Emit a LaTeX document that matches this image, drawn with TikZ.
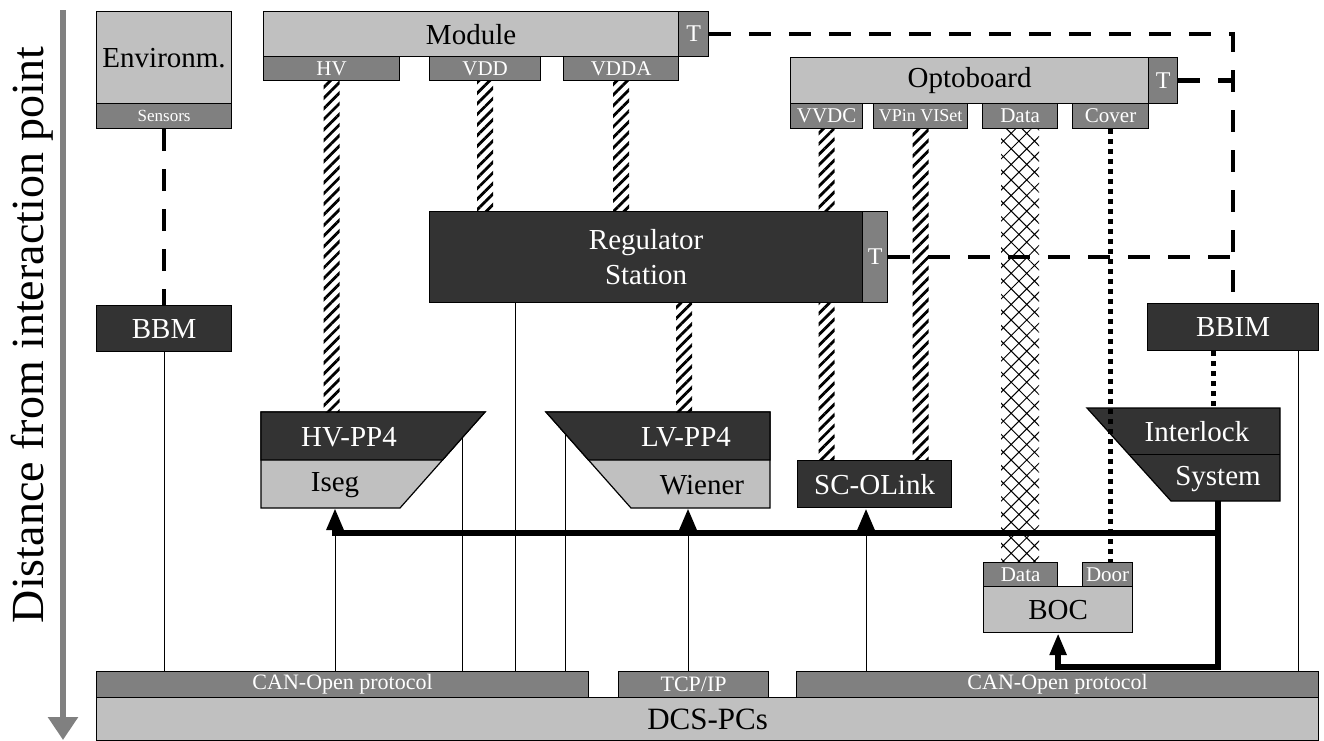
\documentclass[tikz,border=0pt]{standalone}
\usepackage{fontspec}
\setmainfont{Liberation Serif}
\usepackage{tikz}
\usetikzlibrary{arrows.meta,patterns.meta,calc}

\definecolor{lgray}{HTML}{C0C0C0}
\definecolor{mgray}{HTML}{808080}
\definecolor{dgray}{HTML}{333333}

\newcommand{\mainsz}{\fontsize{29}{33}\selectfont}
\newcommand{\portsz}{\fontsize{21}{23}\selectfont}
\newcommand{\senssz}{\fontsize{17}{19}\selectfont}
\newcommand{\axissz}{\fontsize{46}{50}\selectfont}

\begin{document}
\begin{tikzpicture}[x=1pt, y=-1pt,
    box/.style={rectangle, draw, line width=1.2pt, inner sep=0pt, anchor=north west},
    light/.style={box, fill=lgray, text=black, font=\mainsz},
    dark/.style={box, fill=dgray, text=white, font=\mainsz},
    port/.style={box, fill=mgray, text=white, font=\portsz},
    tport/.style={port, font=\fontsize{24}{26}\selectfont},
    stripes/.style={pattern={Lines[angle=45, distance=7.5pt, line width=2.8pt]}},
    crossed/.style={pattern={Hatch[angle=45, distance=11pt, line width=1pt]}},
    wire/.style={line width=1pt},
    temp/.style={line width=4.5pt, dash pattern=on 22pt off 18pt},
    door/.style={line width=5pt, dash pattern=on 5pt off 5pt},
    ilk/.style={line width=6pt},
    ilkarrow/.style={ilk, -{Triangle[length=22pt, width=16pt]}},
  ]
  \useasboundingbox (0,0) rectangle (1324,740);

  % Axis
  \coordinate (axtop) at (63,10);
  \coordinate (axbot) at (63,740);
  \draw[mgray, line width=6pt, -{Triangle[length=23pt, width=29pt]}] (axtop) -- (axbot);
  \node[rotate=90, font=\axissz] (axis) at (32,335) {Distance from interaction point};

  % Detector side
  \node[light, minimum width=135pt, minimum height=92pt] (env) at (96,11) {Environm.};
  \node[port, font=\senssz, minimum width=135pt, minimum height=25pt] (sens) at (96,103) {Sensors};

  \node[port, minimum width=136pt, minimum height=24pt] (hv) at (263,56) {HV};
  \node[port, minimum width=111pt, minimum height=24pt] (vdd) at (429,56) {VDD};
  \node[port, minimum width=115pt, minimum height=24pt] (vdda) at (563,56) {VDDA};
  \node[light, minimum width=415pt, minimum height=45pt] (mod) at (263,11) {Module};
  \node[tport, minimum width=30pt, minimum height=45pt] (modt) at (678,11) {T};

  \node[port, minimum width=72pt, minimum height=25pt] (vvdc) at (790,103) {VVDC};
  \node[port, font=\fontsize{18}{20}\selectfont, minimum width=94pt, minimum height=25pt] (vpin) at (873,103) {VPin VISet};
  \node[port, minimum width=75pt, minimum height=25pt] (odata) at (982,103) {Data};
  \node[port, minimum width=76pt, minimum height=25pt] (cover) at (1072,103) {Cover};
  \node[light, minimum width=358pt, minimum height=46pt] (opto) at (790,57) {Optoboard};
  \node[tport, minimum width=29pt, minimum height=46pt] (optot) at (1148,57) {T};

  \node[dark, minimum width=433pt, minimum height=91pt, align=center] (reg) at (429,211) {Regulator\\[2pt]Station};
  \node[tport, minimum width=25pt, minimum height=91pt] (regt) at (862,211) {T};

  \node[dark, minimum width=135pt, minimum height=46pt] (bbm) at (96,305) {BBM};
  \node[dark, minimum width=171pt, minimum height=47pt] (bbim) at (1147,303) {BBIM};

  % Power supplies and interlock
  \filldraw[fill=lgray, line width=1.2pt] (261,412) -- (485,412) -- (400,508) -- (261,508) -- cycle;
  \filldraw[fill=dgray, line width=1.2pt] (261,412) -- (485,412) -- (442.5,460) -- (261,460) -- cycle;
  \node[font=\mainsz, text=white] (hvpp) at (349,437) {HV-PP4};
  \node[font=\mainsz] (iseg) at (335,485) {Iseg};

  \filldraw[fill=lgray, line width=1.2pt] (546,412) -- (770,412) -- (770,508) -- (631,508) -- cycle;
  \filldraw[fill=dgray, line width=1.2pt] (546,412) -- (770,412) -- (770,460) -- (588.5,460) -- cycle;
  \node[font=\mainsz, text=white] (lvpp) at (686,437) {LV-PP4};
  \node[font=\mainsz] (wiener) at (702,485) {Wiener};

  \filldraw[fill=dgray, line width=1.2pt] (1087,408) -- (1280,408) -- (1280,501) -- (1171,501) -- cycle;
  \draw[line width=1.2pt] (1129,454.5) -- (1280,454.5);
  \node[font=\mainsz, text=white] (ilk1) at (1197,432) {Interlock};
  \node[font=\mainsz, text=white] (ilk2) at (1218,479) {System};

  \node[dark, minimum width=154pt, minimum height=47pt] (olink) at (797,460) {SC-OLink};

  \node[port, minimum width=74pt, minimum height=24pt] (bdata) at (983,562) {Data};
  \node[port, minimum width=50pt, minimum height=24pt] (door) at (1082,562) {Door};
  \node[light, minimum width=149pt, minimum height=46pt] (boc) at (983,586) {BOC};

  % Counting room
  \node[port, font=\fontsize{22}{24}\selectfont, minimum width=492pt, minimum height=26pt] (canl) at (96,671) {CAN-Open protocol};
  \node[port, font=\fontsize{22}{24}\selectfont, minimum width=150pt, minimum height=26pt] (tcp) at (618,671) {TCP/IP};
  \node[port, font=\fontsize{22}{24}\selectfont, minimum width=522pt, minimum height=26pt] (canr) at (796,671) {CAN-Open protocol};
  \node[light, font=\fontsize{31}{35}\selectfont, minimum width=1222pt, minimum height=43pt] (dcs) at (96,697) {DCS-PCs};

  % Attach points
  \coordinate (hvtop) at (331,412);
  \coordinate (hvtap) at (462,438);
  \coordinate (hvbot) at (335,508);
  \coordinate (lvtop) at (684,412);
  \coordinate (lvtap) at (565,433.5);
  \coordinate (lvbot) at (688,508);
  \coordinate (ilktop) at (1213,408);
  \coordinate (ilkbot) at (1218,501);
  \coordinate (regcan) at ([xshift=86pt]reg.south west);
  \coordinate (bbimcan) at ([xshift=-21pt]bbim.south east);
  \coordinate (jhv) at (335,533);
  \coordinate (jlv) at (688,533);
  \coordinate (jol) at (866,533);
  \coordinate (jilk) at (1218,533);

  % Cables
  \fill[stripes] ([xshift=-8pt]hv.south) rectangle ([xshift=8pt]hv.south |- hvtop);
  \fill[stripes] ([xshift=-8pt]vdd.south) rectangle ([xshift=8pt]vdd.south |- reg.north);
  \fill[stripes] ([xshift=-8pt]vdda.south) rectangle ([xshift=8pt]vdda.south |- reg.north);
  \fill[stripes] ([xshift=-8pt]lvtop |- reg.south) rectangle ([xshift=8pt]lvtop);
  \fill[stripes] ([xshift=-8pt]vvdc.south) rectangle ([xshift=8pt]vvdc.south |- reg.north);
  \fill[stripes] ([xshift=-8pt]vvdc.south |- reg.south) rectangle ([xshift=8pt]vvdc.south |- olink.north);
  \fill[stripes] ([xshift=-8pt]vpin.south) rectangle ([xshift=8pt]vpin.south |- olink.north);
  \fill[crossed] ([xshift=-19pt]odata.south) rectangle ([xshift=19pt]odata.south |- bdata.north);

  % Bus lines
  \draw[wire] (bbm.south) -- (bbm.south |- canl.north);
  \draw[wire] (hvtap) -- (hvtap |- canl.north);
  \draw[wire] (regcan) -- (regcan |- canl.north);
  \draw[wire] (lvtap) -- (lvtap |- canl.north);
  \draw[wire] (jhv) -- (jhv |- canl.north);
  \draw[wire] (jlv) -- (jlv |- tcp.north);
  \draw[wire] (jol) -- (jol |- canr.north);
  \draw[wire] (bbimcan) -- (bbimcan |- canr.north);

  % Temperature
  \draw[temp] (sens.south) -- (bbm.north);
  \draw[temp] (modt.east) -- (modt.east -| bbim.north) -- (bbim.north);
  \draw[temp] (optot.east) -- (optot.east -| bbim.north);
  \draw[temp] (regt.east) -- (regt.east -| bbim.north);

  % Door and cover
  \draw[door] (cover.south) -- (cover.south |- door.north);
  \draw[door] (ilktop |- bbim.south) -- (ilktop);

  % Interlock
  \draw[ilkarrow] (ilkbot) -- (jilk) -- (jhv) -- (hvbot);
  \draw[ilkarrow] (jlv) -- (lvbot);
  \draw[ilkarrow] (jol) -- (jol |- olink.south);
  \draw[ilkarrow] (jilk) -- ([yshift=4pt]jilk |- canr.north) -| (boc.south);
\end{tikzpicture}
\end{document}
